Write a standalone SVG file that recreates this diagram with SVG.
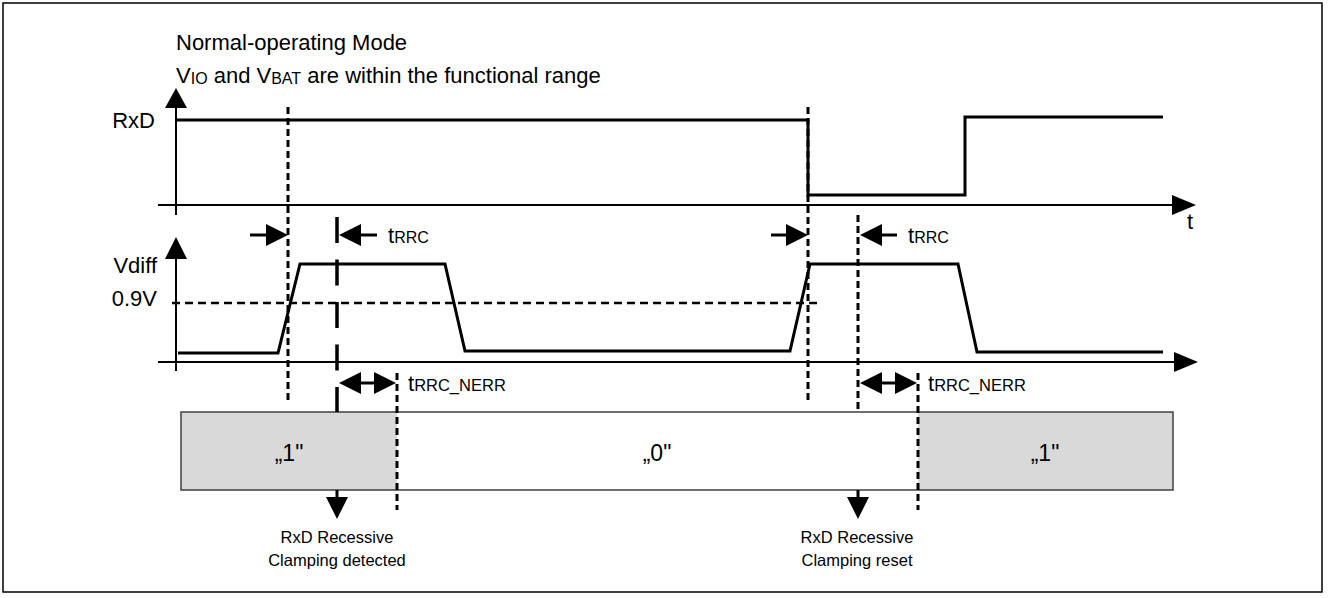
<svg xmlns="http://www.w3.org/2000/svg" width="1328" height="598" viewBox="0 0 1328 598">
<style>
text{font-family:"Liberation Sans",Arial,sans-serif;fill:#000}
.t22{font-size:22px}
.sub{font-size:16px}
.lbl{font-size:16.5px}
.val{font-size:23px}
.axis{stroke:#000;stroke-width:2;fill:none}
.wave{stroke:#000;stroke-width:3;fill:none;stroke-linejoin:miter}
.dash{stroke:#000;stroke-width:3;stroke-dasharray:7 4;fill:none}
.ldash{stroke:#000;stroke-width:3.5;stroke-dasharray:26 16.5;fill:none}
.hdash{stroke:#000;stroke-width:2.5;stroke-dasharray:8 5;fill:none}
.head{fill:#000;stroke:none}
.arr{stroke:#000;stroke-width:3;fill:none}
.seg{stroke:none}
.gray{fill:#d9d9d9}
</style>
<rect id="frame" x="3" y="3" width="1319" height="589" fill="#fff" stroke="#000" stroke-width="1.5"/>

<g id="title">
<text class="t22" x="176" y="50">Normal-operating Mode</text>
<text class="t22" x="176" y="83">V<tspan class="sub" dy="1">IO</tspan><tspan dy="-1"> and V</tspan><tspan class="sub" dy="1">BAT</tspan><tspan dy="-1"> are within the functional range</tspan></text>
</g>

<g id="rxd-chart">
<line class="axis" x1="176" y1="106" x2="176" y2="215"/>
<polygon class="head" points="176,88 165,108 187,108"/>
<line class="axis" x1="158" y1="205" x2="1175" y2="205"/>
<polygon class="head" points="1196,205 1172,195 1172,215"/>
<text class="t22" x="1187" y="229">t</text>
<text class="t22" x="155" y="128" text-anchor="end">RxD</text>
<polyline class="wave" points="177,120 808,120 808,195 965,195 965,117 1163,117"/>
</g>

<g id="vdiff-chart">
<line class="axis" x1="176" y1="256" x2="176" y2="371"/>
<polygon class="head" points="176,237 165,259 187,259"/>
<line class="axis" x1="158" y1="362" x2="1177" y2="362"/>
<polygon class="head" points="1198,362 1174,352 1174,372"/>
<text class="t22" x="157" y="273" text-anchor="end">Vdiff</text>
<text class="t22" x="157" y="306" text-anchor="end">0.9V</text>
<line class="hdash" x1="172" y1="303" x2="820" y2="303"/>
<polyline class="wave" points="178,353 278,353 300,264 445,264 465,351 790,351 810,264 958,264 977,352 1163,352"/>
</g>

<g id="state-box">
<g id="seg-1a"><rect class="seg gray" x="181" y="412" width="216" height="78"/><text class="val" x="289" y="461" text-anchor="middle">„1"</text></g>
<g id="seg-0"><rect class="seg" x="397" y="412" width="521" height="78" fill="#fff"/><text class="val" x="657" y="461" text-anchor="middle">„0"</text></g>
<g id="seg-1b"><rect class="seg gray" x="918" y="412" width="255" height="78"/><text class="val" x="1045" y="461" text-anchor="middle">„1"</text></g>
<rect x="181" y="412" width="992" height="78" fill="none" stroke="#404040" stroke-width="1.5"/>
</g>

<g id="connectors">
<line class="dash" x1="288" y1="107" x2="288" y2="402"/>
<line class="dash" x1="808" y1="107" x2="808" y2="403"/>
<line class="dash" x1="858" y1="215" x2="858" y2="412"/>
<line class="dash" x1="858" y1="490" x2="858" y2="498"/>
<line class="dash" x1="397" y1="373" x2="397" y2="510"/>
<line class="dash" x1="918" y1="373" x2="918" y2="510"/>
<line class="ldash" x1="337" y1="217" x2="337" y2="412"/>
<line class="arr" x1="337" y1="490" x2="337" y2="499"/>
<polygon class="head" points="326,497 348,497 337,519"/>
<polygon class="head" points="847,497 869,497 858,519"/>

<line class="arr" x1="250" y1="235" x2="268" y2="235"/>
<polygon class="head" points="266,224 288,235 266,246"/>
<polygon class="head" points="339,235 361,224 361,246"/>
<line class="arr" x1="359" y1="235" x2="377" y2="235"/>
<line class="arr" x1="771" y1="235" x2="788" y2="235"/>
<polygon class="head" points="786,224 808,235 786,246"/>
<polygon class="head" points="860,235 882,224 882,246"/>
<line class="arr" x1="880" y1="235" x2="897" y2="235"/>

<polygon class="head" points="339,383 361,372 361,394"/>
<polygon class="head" points="396,383 374,372 374,394"/>
<line class="arr" x1="359" y1="383" x2="376" y2="383"/>
<polygon class="head" points="860,383 882,372 882,394"/>
<polygon class="head" points="917,383 895,372 895,394"/>
<line class="arr" x1="880" y1="383" x2="897" y2="383"/>
</g>

<g id="timing-labels">
<text class="t22" x="388" y="243">t<tspan class="sub">RRC</tspan></text>
<text class="t22" x="908" y="243">t<tspan class="sub">RRC</tspan></text>
<text class="t22" x="408" y="391">t<tspan class="lbl">RRC_NERR</tspan></text>
<text class="t22" x="928" y="391">t<tspan class="lbl">RRC_NERR</tspan></text>
</g>

<g id="event-detected">
<text class="lbl" x="337" y="543" text-anchor="middle">RxD Recessive</text>
<text class="lbl" x="337" y="566" text-anchor="middle">Clamping detected</text>
</g>
<g id="event-reset">
<text class="lbl" x="857" y="543" text-anchor="middle">RxD Recessive</text>
<text class="lbl" x="857" y="566" text-anchor="middle">Clamping reset</text>
</g>
</svg>
